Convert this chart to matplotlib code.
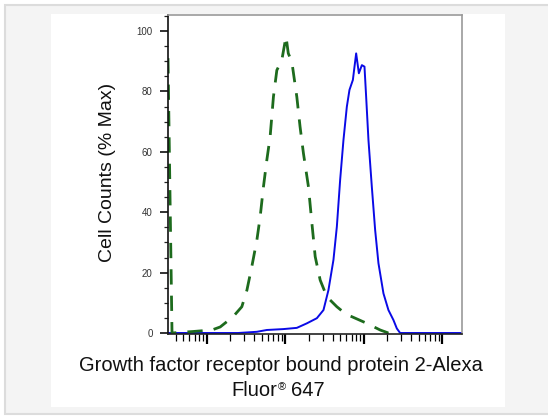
import numpy as np
import matplotlib
matplotlib.use("Agg")
import matplotlib.pyplot as plt
from matplotlib.patches import Rectangle
from matplotlib.ticker import LogLocator, NullFormatter, MultipleLocator

# control (dashed green) histogram
ctrl_x = [3.2, 3.6, 6.7, 11.6, 14.8, 21.6, 27.9, 32.4, 37.4, 43.4, 47.8, 52.6,
          58.1, 64.0, 70.5, 77.9, 90.2, 102, 109, 121, 140, 154, 170, 197,
          218, 240, 278, 338, 453, 607, 703, 1092, 1325, 1613, 2057, 2600]
ctrl_y = [91, 0, 0.5, 1, 2, 5.4, 8.7, 14.2, 22, 30.8, 38.5, 48.4,
          57.3, 65, 78.2, 87, 90.4, 98.2, 92.6, 89.8, 78.2, 68.3, 59.5, 48.4,
          36.3, 25.3, 17.5, 12, 8.7, 6, 5.4, 3.2, 2.1, 1, 0, 0]

# stained sample (solid blue) histogram
smp_x = [3.2, 25.1, 43.4, 58.1, 94.6, 140, 188, 252, 306, 354, 410, 453,
         499, 550, 607, 656, 725, 798, 864, 944, 1019, 1070, 1145, 1264,
         1393, 1535, 1778, 2057, 2382, 2632, 2898, 17800]
smp_y = [0, 0, 0.4, 1, 1.3, 1.7, 3.2, 4.9, 7.6, 14.2, 24.2, 35.2,
         50.7, 63.9, 74.9, 80.5, 83.8, 92.6, 86, 88.7, 88.2, 78.2, 63.9, 48.4,
         34.1, 23.1, 13.1, 7.6, 4.3, 1.5, 0, 0]

yticks = [0, 20, 40, 60, 80, 100]
ylabel = "Cell Counts (% Max)"
xlabel1 = "Growth factor receptor bound protein 2-Alexa"
xlabel2 = ["Fluor", "®", "647"]

W, H = 548, 419
plt.rcParams['font.family'] = ['Liberation Sans', 'DejaVu Sans']
fig = plt.figure(figsize=(W / 100, H / 100), dpi=100)
fig.patch.set_facecolor("white")

# grey page and white panel behind the plot
fig.add_artist(Rectangle((5 / W, 1 - 414 / H), 600 / W, 409 / H, transform=fig.transFigure,
                         facecolor="#f4f4f4", edgecolor="#dcdcdc", lw=1.5, zorder=-3))
fig.add_artist(Rectangle((51 / W, 1 - 407 / H), 454 / W, 393 / H, transform=fig.transFigure,
                         facecolor="white", edgecolor="none", zorder=-2))

ax = fig.add_axes([168 / W, 1 - 334 / H, 294 / W, 319 / H])
ax.patch.set_alpha(0)

ax.plot(smp_x, smp_y, color="#0a0ae6", lw=1.4)
ax.plot(ctrl_x, ctrl_y, color="#1d6b1d", lw=2.0, dashes=(5.5, 4))

ax.set_xscale("log")
ax.set_xlim(3.2, 17800)
ax.set_ylim(-0.33, 105.3)

ax.xaxis.set_major_locator(LogLocator(base=10, numticks=10))
ax.xaxis.set_minor_locator(LogLocator(base=10, subs=np.arange(2, 10), numticks=20))
ax.xaxis.set_major_formatter(NullFormatter())
ax.xaxis.set_minor_formatter(NullFormatter())
ax.set_yticks(yticks)
ax.yaxis.set_minor_locator(MultipleLocator(5))

ax.tick_params(axis="x", which="major", length=7, width=1.6, color="black")
ax.tick_params(axis="x", which="minor", length=5, width=0.9, color="black")
ax.tick_params(axis="y", which="major", length=6, width=1.3, pad=5,
               labelsize=7, labelcolor="#333333", color="#222222")
ax.tick_params(axis="y", which="minor", length=3, width=0.9, color="#222222")

ax.spines["left"].set_color("#111111")
ax.spines["left"].set_linewidth(1.2)
ax.spines["bottom"].set_color("#222222")
ax.spines["bottom"].set_linewidth(1.2)
for s in ["top", "right"]:
    ax.spines[s].set_color("#999999")
    ax.spines[s].set_linewidth(1.2)

fig.text(107 / W, 1 - 172 / H, ylabel, rotation=90, fontsize=14,
         ha="center", va="center", color="#111111")

# x label: two lines, the second one with a small raised ®
fig.text(280.5 / W, 1 - 371 / H, xlabel1, fontsize=14.5, ha="center", va="baseline",
         color="#111111")
fig.text(277.5 / W, 1 - 396 / H, xlabel2[0], fontsize=14.5, ha="right", va="baseline",
         color="#111111")
fig.text(278 / W, 1 - 390 / H, xlabel2[1], fontsize=8, ha="left", va="baseline",
         color="#111111")
fig.text(290.5 / W, 1 - 396 / H, xlabel2[2], fontsize=14.5, ha="left", va="baseline",
         color="#111111")

fig.savefig("out.png", dpi=100)
